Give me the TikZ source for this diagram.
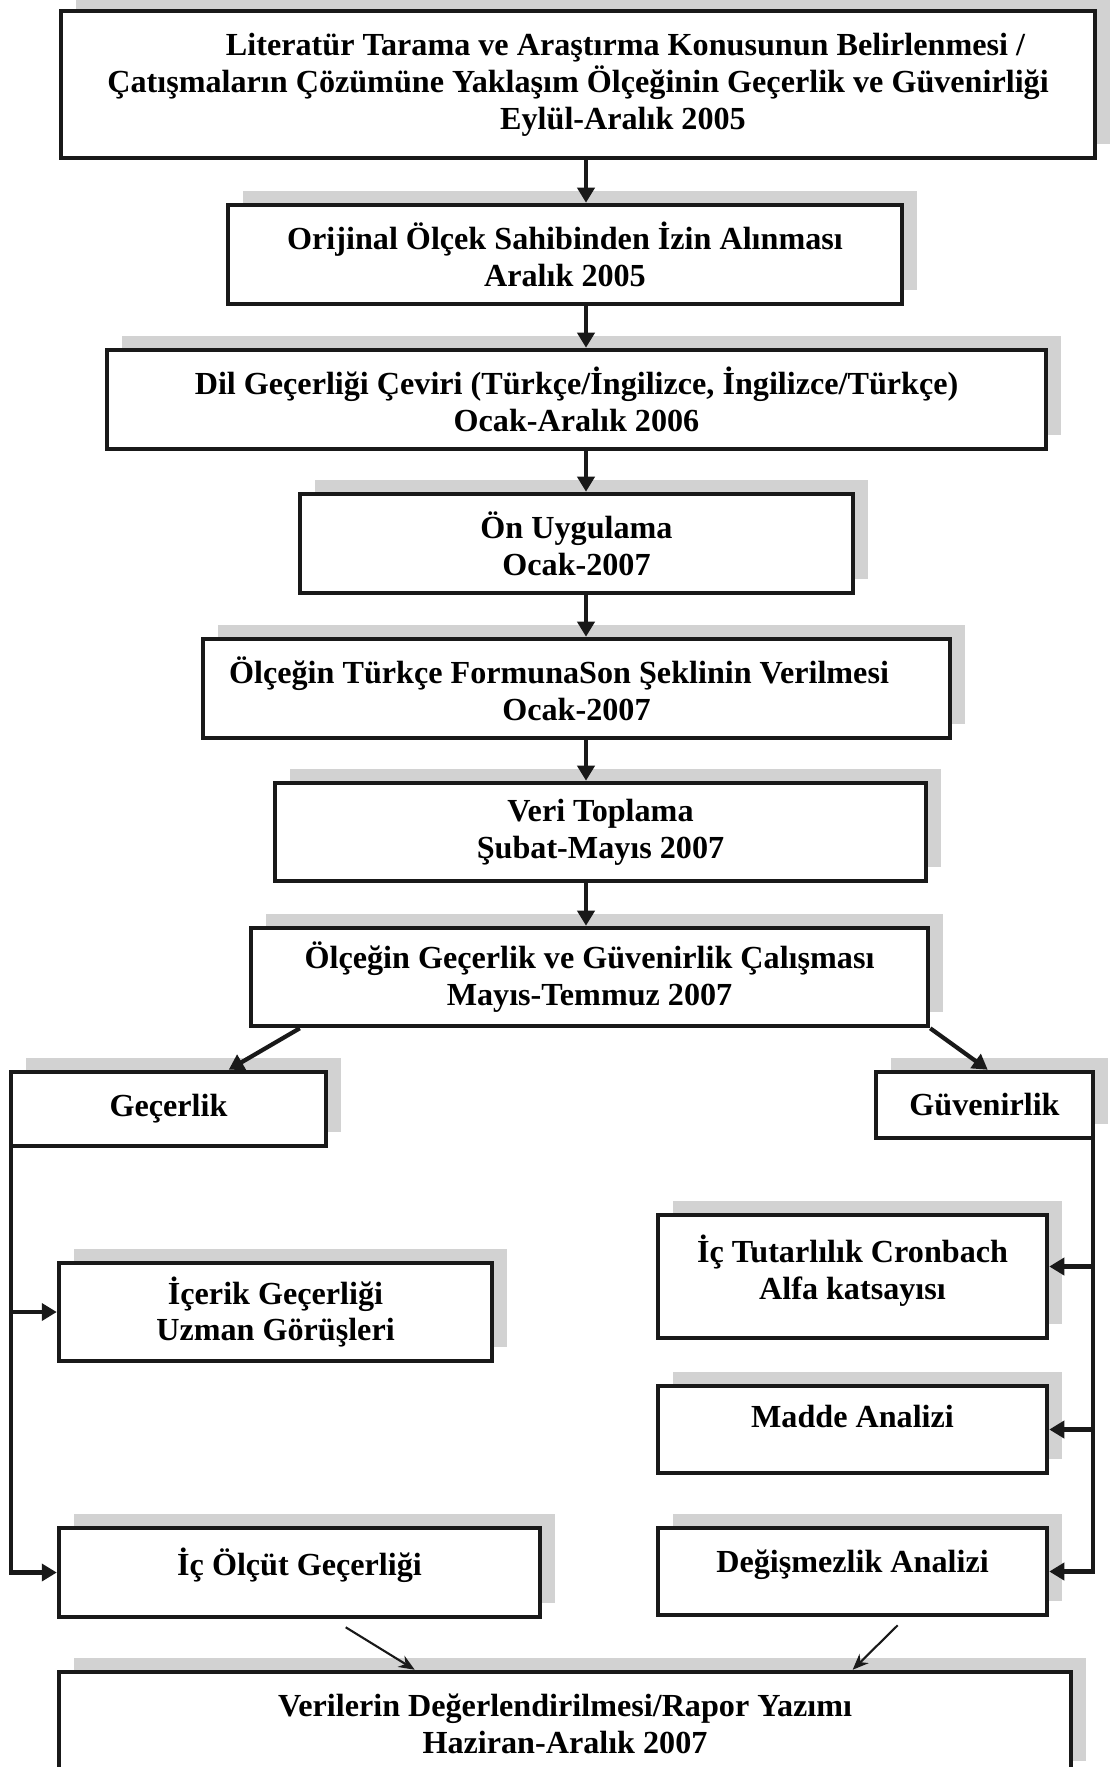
\documentclass[tikz,border=0pt]{standalone}
\usepackage{fontspec}
\setmainfont{Liberation Serif}
\usetikzlibrary{arrows.meta,shadows,calc}
\newcommand\lift[1]{\rule[-#1]{0pt}{#1}}
\tikzset{
  kutu/.style={draw=black!90, line width=2.6pt, fill=white, align=center,
    font=\fontsize{18.3}{21}\selectfont\bfseries, inner sep=0pt,
    drop shadow={shadow xshift=0.3cm, shadow yshift=0.28cm, fill=gray!35, opacity=1}},
  ok/.style={draw=black!90, line width=2.4pt, -{Triangle[length=0.3cm,width=0.34cm]}},
  ince/.style={draw=black!90, line width=1.2pt, -{Stealth[length=0.32cm,width=0.26cm]}}
}
\begin{document}
\begin{tikzpicture}[x=0.02cm,y=-0.02cm]
	\useasboundingbox (0,0) rectangle (1109,1767);
	% akis kutulari
	\node[kutu, minimum width=20.68cm, minimum height=2.94cm] (b1) at (578,84.5)
		{\hspace*{1.9cm}Literatür Tarama ve Araştırma Konusunun Belirlenmesi /\\
		 Çatışmaların Çözümüne Yaklaşım Ölçeğinin Geçerlik ve Güvenirliği\\
		 \hspace*{1.8cm}Eylül-Aralık 2005};
	\node[kutu, minimum width=13.48cm, minimum height=1.98cm] (b2) at (565,254.5)
		{Orijinal Ölçek Sahibinden İzin Alınması\\Aralık 2005};
	\node[kutu, minimum width=18.78cm, minimum height=1.98cm] (b3) at (576.5,399.5)
		{Dil Geçerliği Çeviri (Türkçe/İngilizce, İngilizce/Türkçe)\\Ocak-Aralık 2006};
	\node[kutu, minimum width=11.06cm, minimum height=1.98cm] (b4) at (576.5,543.5)
		{Ön Uygulama\\Ocak-2007};
	\node[kutu, minimum width=14.94cm, minimum height=1.98cm] (b5) at (576.5,688.5)
		{Ölçeğin Türkçe FormunaSon Şeklinin Verilmesi\hspace*{0.7cm}\\Ocak-2007};
	\node[kutu, minimum width=13.02cm, minimum height=1.96cm] (b6) at (600.5,832)
		{Veri Toplama\\Şubat-Mayıs 2007};
	\node[kutu, minimum width=13.54cm, minimum height=1.96cm] (b7) at (589.5,977)
		{Ölçeğin Geçerlik ve Güvenirlik Çalışması\\Mayıs-Temmuz 2007};
	% dallar
	\node[kutu, minimum width=6.3cm, minimum height=1.48cm] (gec) at (168.5,1109) {Geçerlik};
	\node[kutu, minimum width=4.34cm, minimum height=1.32cm] (guv) at (984.5,1105) {Güvenirlik};
	\node[kutu, minimum width=8.66cm, minimum height=1.96cm] (icerik) at (275.5,1312)
		{İçerik Geçerliği\\Uzman Görüşleri};
	\node[kutu, minimum width=9.62cm, minimum height=1.78cm] (icolcut) at (299.5,1572.5)
		{İç Ölçüt Geçerliği\lift{0.44cm}};
	\node[kutu, minimum width=7.78cm, minimum height=2.46cm] (ictut) at (852.5,1276.5)
		{İç Tutarlılık Cronbach\\Alfa katsayısı\lift{0.36cm}};
	\node[kutu, minimum width=7.78cm, minimum height=1.74cm] (madde) at (852.5,1429.5)
		{Madde Analizi\lift{0.52cm}};
	\node[kutu, minimum width=7.78cm, minimum height=1.74cm] (degis) at (852.5,1571.5)
		{Değişmezlik Analizi\lift{0.42cm}};
	\node[kutu, minimum width=20.24cm, minimum height=2.06cm] (son) at (565,1723.5)
		{Verilerin Değerlendirilmesi/Rapor Yazımı\\Haziran-Aralık 2007};
	% oklar
	\coordinate (orta) at (586,0);
	\draw[ok] (b1.south -| orta) -- (b2.north -| orta);
	\draw[ok] (b2.south -| orta) -- (b3.north -| orta);
	\draw[ok] (b3.south -| orta) -- (b4.north -| orta);
	\draw[ok] (b4.south -| orta) -- (b5.north -| orta);
	\draw[ok] (b5.south -| orta) -- (b6.north -| orta);
	\draw[ok] (b6.south -| orta) -- (b7.north -| orta);
	\draw[ok] ([xshift=1.02cm]b7.south west) -- ([xshift=4.4cm]gec.north west);
	\draw[ok] (b7.south east) -- ([xshift=2.28cm]guv.north west);
	% sol hat
	\coordinate (solhat) at ([xshift=0.05cm]gec.south west);
	\draw[ok] (solhat) |- (icolcut.west);
	\draw[ok] (solhat |- icerik.west) -- (icerik.west);
	% sag hat
	\coordinate (saghat) at ([xshift=-0.05cm]guv.south east);
	\coordinate (tutgir) at ([yshift=0.2cm]ictut.east);
	\draw[ok] (saghat) |- (degis.east);
	\draw[ok] (saghat |- tutgir) -- (tutgir);
	\draw[ok] (saghat |- madde.east) -- (madde.east);
	% son kutuya
	\draw[ince] ([xshift=5.78cm,yshift=-0.16cm]icolcut.south west) -- ([xshift=7.16cm]son.north west);
	\draw[ince] ([xshift=4.84cm,yshift=-0.16cm]degis.south west) -- ([xshift=15.92cm]son.north west);
\end{tikzpicture}
\end{document}
